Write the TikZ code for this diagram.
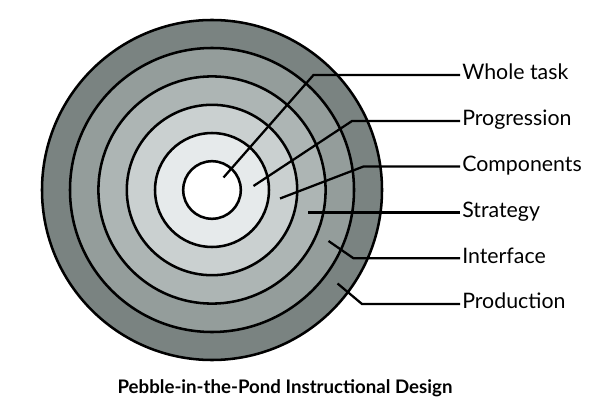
\documentclass[tikz,border=0pt]{standalone}
\usepackage{fontspec}
\setmainfont{Lato}
\definecolor{ringA}{RGB}{122,131,129}
\definecolor{ringB}{RGB}{148,157,155}
\definecolor{ringC}{RGB}{173,181,180}
\definecolor{ringD}{RGB}{202,208,208}
\definecolor{ringE}{RGB}{230,234,235}
\tikzset{
  ring/.style={draw=black,line width=1.9pt},
  leader/.style={draw=black,line width=1.7pt},
  lbl/.style={anchor=west,inner sep=1.5pt,font=\fontsize{16}{19}\selectfont,text height=1.4ex,text depth=0pt}
}
\begin{document}
\begin{tikzpicture}[x=0.75pt,y=0.75pt,yscale=-1,xscale=1]
\useasboundingbox (0,0) rectangle (595,406);

%Shape: Circle [id:production]
\draw [ring,fill=ringA] (212,190) circle (170);
%Shape: Circle [id:interface]
\draw [ring,fill=ringB] (212,190) circle (142);
%Shape: Circle [id:strategy]
\draw [ring,fill=ringC] (212,190) circle (113.6);
%Shape: Circle [id:components]
\draw [ring,fill=ringD] (212,190) circle (85.2);
%Shape: Circle [id:progression]
\draw [ring,fill=ringE] (212,190) circle (57);
%Shape: Circle [id:wholetask]
\draw [ring,fill=white] (212,190) circle (28.8);

% Text Node
\node [lbl] (whole) at (460,75) {Whole task};
% Text Node
\node [lbl] (progr) at (460,121) {Progression};
% Text Node
\node [lbl] (compo) at (460,166.5) {Components};
% Text Node
\node [lbl] (strat) at (460,212.5) {Strategy};
% Text Node
\node [lbl] (inter) at (460,258.3) {Interface};
% Text Node
\node [lbl] (produ) at (460,304) {Production};

% leader ends and bends
\coordinate (wholeIn) at (223.5,177.5);
\coordinate (wholeBend) at (313.5,75);
\coordinate (progrIn) at (253.5,186);
\coordinate (progrBend) at (352,121);
\coordinate (compoIn) at (280,198.5);
\coordinate (compoBend) at (363.5,166.5);
\coordinate (stratIn) at (308,212.5);
\coordinate (interIn) at (328.5,241);
\coordinate (interBend) at (353.5,258.3);
\coordinate (produIn) at (337.5,283.5);
\coordinate (produBend) at (362,304);

%Straight Lines
\draw [leader] (wholeIn) -- (wholeBend) -- (whole.west);
\draw [leader] (progrIn) -- (progrBend) -- (progr.west);
\draw [leader] (compoIn) -- (compoBend) -- (compo.west);
\draw [leader] (stratIn) -- (strat.west);
\draw [leader] (interIn) -- (interBend) -- (inter.west);
\draw [leader] (produIn) -- (produBend) -- (produ.west);

% Text Node
\node [anchor=base,inner sep=0pt,font=\bfseries\fontsize{14}{17}\selectfont] (title) at (285,393) {Pebble-in-the-Pond Instructional Design};

\end{tikzpicture}
\end{document}
